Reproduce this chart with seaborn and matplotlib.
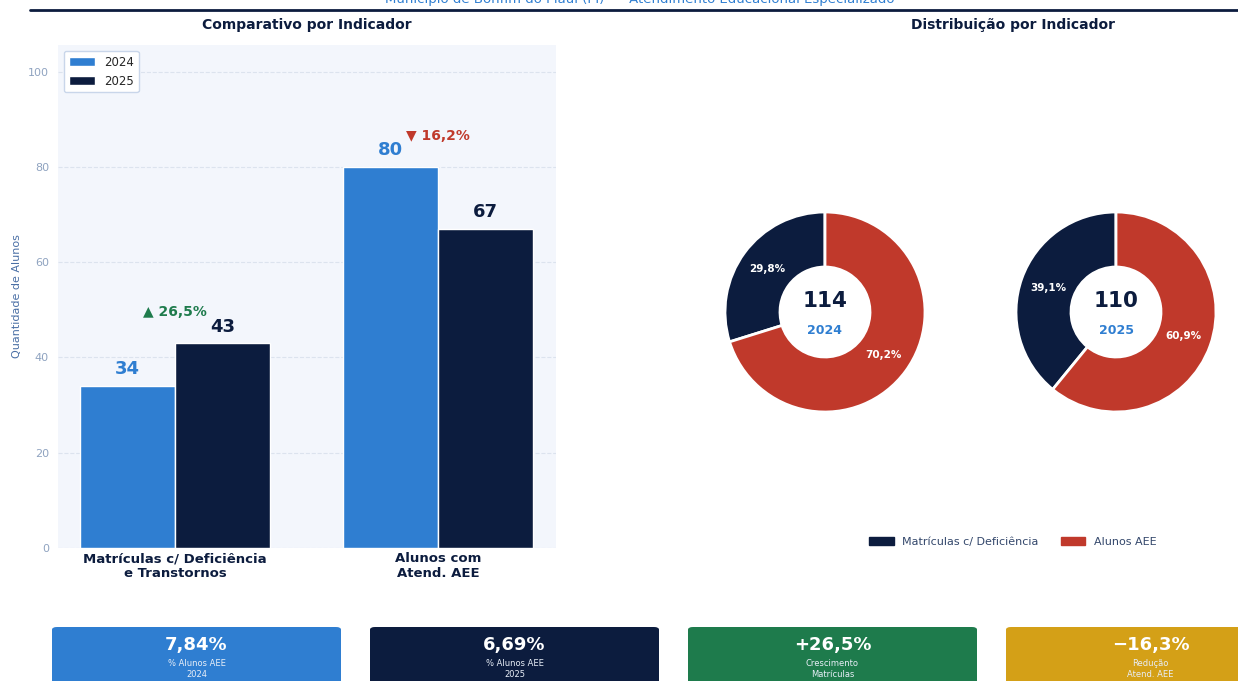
import matplotlib
matplotlib.use("Agg")
import matplotlib.pyplot as plt
from matplotlib.patches import FancyBboxPatch, Patch
import seaborn as sns
import pandas as pd

# ---------------- data ----------------
categories = ["Matrículas c/ Deficiência\ne Transtornos", "Alunos com\nAtend. AEE"]
years = ["2024", "2025"]
values_2024 = [34, 80]
values_2025 = [43, 67]
change_labels = ["▲ 26,5%", "▼ 16,2%"]
change_colors = ["#1E7B4C", "#C0392B"]

pie_labels = ["Matrículas c/ Deficiência", "Alunos AEE"]
pie_2024 = [34, 80]
pie_2025 = [43, 67]
pie_totals = [114, 110]

kpi_values = ["7,84%", "6,69%", "+26,5%", "\u221216,3%"]
kpi_labels = ["% Alunos AEE\n2024", "% Alunos AEE\n2025", "Crescimento\nMatrículas", "Redução\nAtend. AEE"]

# ---------------- style ----------------
BLUE = "#2F7ED1"
NAVY = "#0C1C3E"
RED = "#C0392B"
GREEN = "#1E7B4C"
GOLD = "#D4A017"
kpi_colors = [BLUE, NAVY, GREEN, GOLD]

sns.set_theme(style="white")
plt.rcParams["font.family"] = ["DejaVu Sans"]

W, H = 1238, 681
fig = plt.figure(figsize=(W / 100, H / 100), dpi=100)
fig.patch.set_facecolor("white")

def fx(px):
    return px / W

def fy(py):
    return 1 - py / H

# header
fig.text(fx(640), fy(0), "Município de Bonfim do Piauí (PI)  •  Atendimento Educacional Especializado",
         ha="center", va="center", fontsize=9.5, color=BLUE)
fig.add_artist(plt.Line2D([fx(30), fx(1238)], [fy(10), fy(10)], color=NAVY, lw=2,
                          transform=fig.transFigure))

# ---------------- bar chart ----------------
ax = fig.add_axes([fx(58), fy(548), fx(556) - fx(58), fy(45) - fy(548)])
df = pd.DataFrame({
    "Indicador": categories * 2,
    "Valor": values_2024 + values_2025,
    "Ano": [years[0]] * len(categories) + [years[1]] * len(categories),
})
sns.barplot(data=df, x="Indicador", y="Valor", hue="Ano", palette=[BLUE, NAVY],
            saturation=1, width=0.72, gap=0, edgecolor="white", linewidth=1, ax=ax)
ax.set_facecolor("#F3F6FC")
ax.set_ylim(0, 105.6)
ax.set_xlim(-0.445, 1.449)
ax.set_yticks([0, 20, 40, 60, 80, 100])
ax.yaxis.grid(True, linestyle="--", color="#DCE3EE", linewidth=0.8)
ax.set_axisbelow(True)
for s in ax.spines.values():
    s.set_visible(False)
ax.tick_params(axis="y", colors="#8FA3C0", labelsize=8, length=3, width=0.8)
ax.tick_params(axis="x", length=0, pad=3)
for lbl in ax.get_xticklabels():
    lbl.set_fontweight("bold")
    lbl.set_fontsize(9.5)
    lbl.set_color(NAVY)
ax.set_xlabel("")
ax.set_ylabel("Quantidade de Alunos", fontsize=8, color="#4A6FA5")

label_colors = [BLUE, NAVY]
for ci, cont in enumerate(ax.containers):
    for bar in cont:
        h = bar.get_height()
        ax.text(bar.get_x() + bar.get_width() / 2, h + 3.5, f"{int(h)}",
                ha="center", va="center", fontsize=13, fontweight="bold", color=label_colors[ci])

for i in range(len(categories)):
    top = max(values_2024[i], values_2025[i])
    ax.text(i, top + 6.5, change_labels[i], ha="center", va="center", fontsize=10,
            fontweight="bold", color=change_colors[i])

handles, labels = ax.get_legend_handles_labels()
leg = ax.legend(handles, labels, loc="upper left", fontsize=8.5, frameon=True,
                fancybox=True, framealpha=1, edgecolor="#C9D6EA", handlelength=2.2)

fig.text(fx(307), fy(25), "Comparativo por Indicador", ha="center", va="center",
         fontsize=10, fontweight="bold", color=NAVY)
fig.text(fx(1013), fy(25), "Distribuição por Indicador", ha="center", va="center",
         fontsize=10, fontweight="bold", color=NAVY)

# ---------------- donuts ----------------
def donut(cx, vals, total, year):
    a = fig.add_axes([fx(cx - 110), fy(422), fx(220), fy(202) - fy(422)])
    wedges, texts, autotexts = a.pie(
        vals, colors=[NAVY, RED], startangle=90, counterclock=True,
        wedgeprops=dict(width=0.55, edgecolor="white", linewidth=2),
        autopct=lambda p: f"{p:.1f}%".replace(".", ","), pctdistance=0.72, radius=1.0)
    for t in autotexts:
        t.set_color("white")
        t.set_fontsize(7.5)
        t.set_fontweight("bold")
    a.text(0, 0.11, f"{total}", ha="center", va="center", fontsize=15.5, fontweight="heavy", color=NAVY)
    a.text(0, -0.19, year, ha="center", va="center", fontsize=9, fontweight="bold", color=BLUE)
    a.set_xlim(-1.1, 1.1)
    a.set_ylim(-1.1, 1.1)
    a.set_aspect("equal")
    a.axis("off")

donut(825, pie_2024, pie_totals[0], years[0])
donut(1116, pie_2025, pie_totals[1], years[1])

fig.legend(handles=[Patch(color=NAVY, label=pie_labels[0]), Patch(color=RED, label=pie_labels[1])],
           loc="center", bbox_to_anchor=(fx(1013), fy(542)), ncol=2, frameon=False,
           fontsize=8, labelcolor="#33476B", handlelength=2.2, columnspacing=2.0)

# ---------------- KPI boxes ----------------
box_w = 289
for i in range(len(kpi_values)):
    x0 = 52 + i * 318
    box = FancyBboxPatch((fx(x0), fy(700)), fx(box_w), fy(627) - fy(700),
                         boxstyle="round,pad=0,rounding_size=0.004",
                         transform=fig.transFigure, facecolor=kpi_colors[i], edgecolor="none")
    fig.add_artist(box)
    cxp = x0 + box_w / 2
    fig.text(fx(cxp), fy(645), kpi_values[i], ha="center", va="center", fontsize=13,
             fontweight="bold", color="white")
    fig.text(fx(cxp), fy(669), kpi_labels[i], ha="center", va="center", fontsize=6,
             color="#E8EEF7", linespacing=1.25)

fig.savefig("out.png", dpi=100, facecolor="white")
